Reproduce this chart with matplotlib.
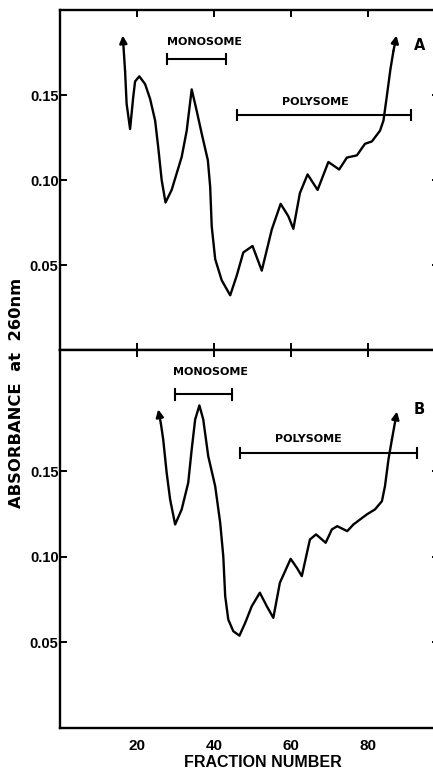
import matplotlib
matplotlib.use("Agg")
import matplotlib.pyplot as plt

# panel A trace (fraction number, absorbance)
frac_a = [16.3, 16.9, 17.3, 18.2, 19.0, 19.5, 20.6, 22.1, 23.4, 24.7, 25.5, 26.4, 27.4,
          29.0, 31.6, 32.9, 34.2, 35.5, 36.8, 38.4, 39.0, 39.4, 40.3, 42.0, 44.2,
          45.9, 47.6, 50.0, 52.4, 55.0, 57.3, 59.3, 60.6, 62.3, 64.3, 66.9, 69.7,
          72.5, 74.5, 77.1, 79.2, 81.0, 83.1, 84.0, 84.8, 85.8, 86.6, 87.4]
abs_a = [0.185, 0.164, 0.1448, 0.130, 0.1485, 0.158, 0.161, 0.1564, 0.1477, 0.135, 0.1194, 0.100, 0.0868,
         0.0942, 0.1136, 0.129, 0.1533, 0.1407, 0.1273, 0.1116, 0.096, 0.0728, 0.0535, 0.041, 0.0322,
         0.0438, 0.0574, 0.0612, 0.0467, 0.0709, 0.086, 0.0787, 0.0713, 0.0923, 0.1033, 0.0942, 0.1106,
         0.1062, 0.1132, 0.1145, 0.1213, 0.1227, 0.129, 0.1349, 0.148, 0.165, 0.176, 0.185]

# panel B trace
frac_b = [25.5, 26.2, 26.8, 27.7, 28.6, 29.9, 31.6, 33.3, 34.2, 35.1, 36.2, 37.2, 38.5,
          40.3, 41.6, 42.4, 42.9, 43.7, 45.0, 46.6, 48.1, 49.8, 51.9, 53.7, 55.4,
          57.1, 59.9, 61.5, 62.8, 64.9, 66.5, 69.0, 70.6, 72.0, 74.6, 76.2, 79.7,
          81.8, 83.6, 84.4, 85.3, 86.2, 87.5]
abs_b = [0.1863, 0.178, 0.1687, 0.1492, 0.1336, 0.119, 0.1278, 0.1434, 0.1629, 0.1804, 0.1886, 0.1804, 0.1589,
         0.1414, 0.120, 0.1005, 0.0771, 0.0634, 0.0566, 0.054, 0.0615, 0.0712, 0.0791, 0.0712, 0.0644,
         0.0849, 0.0989, 0.0937, 0.0888, 0.1102, 0.1132, 0.1083, 0.1161, 0.118, 0.1151, 0.119, 0.1249,
         0.1278, 0.1326, 0.1414, 0.157, 0.1687, 0.185]

# bracket annotations: (label, x_start, x_end, bar_y, text_x, text_y)
brackets_a = [("MONOSOME", 27.8, 43.1, 0.171, 37.4, 0.181),
              ("POLYSOME", 46.0, 91.2, 0.1384, 66.2, 0.146)]
brackets_b = [("MONOSOME", 29.9, 44.7, 0.195, 39.2, 0.208),
              ("POLYSOME", 46.8, 92.7, 0.161, 64.5, 0.169)]

yticks = [0.05, 0.10, 0.15]
yticklabels = ["0.05", "0.10", "0.15"]
xticks = [20, 40, 60, 80]

plt.rcParams["font.family"] = ["Liberation Sans", "DejaVu Sans"]
plt.rcParams["font.weight"] = "bold"

fig = plt.figure(figsize=(4.33, 7.71), dpi=100)
ax_a = fig.add_axes([0.1386, 0.546, 0.875, 0.441])
ax_b = fig.add_axes([0.1386, 0.0558, 0.875, 0.4902])


def draw_panel(ax, frac, absb, ylim, brackets, letter, letter_y):
    ax.plot(frac[1:-1], absb[1:-1], color="black", lw=1.7,
            solid_joinstyle="round", solid_capstyle="round")
    # arrows at both ends of the trace
    for i0, i1 in [(1, 0), (-2, -1)]:
        ax.annotate("", xy=(frac[i1], absb[i1]), xytext=(frac[i0], absb[i0]),
                    arrowprops=dict(arrowstyle="-|>", color="black", lw=1.7,
                                    mutation_scale=11, shrinkA=0, shrinkB=0))
    for label, x0, x1, by, tx, ty in brackets:
        ax.plot([x0, x1], [by, by], color="black", lw=1.5)
        ax.plot([x0, x0], [by - 0.003, by + 0.003], color="black", lw=1.5)
        ax.plot([x1, x1], [by - 0.003, by + 0.003], color="black", lw=1.5)
        ax.text(tx, ty, label, ha="center", va="center", fontsize=8,
                fontweight="bold", family="DejaVu Sans")
    ax.text(93.3, letter_y, letter, ha="center", va="center", fontsize=10.5,
            fontweight="bold", family="DejaVu Sans")
    ax.set_xlim(0, 98.4)
    ax.set_ylim(*ylim)
    ax.set_yticks(yticks)
    ax.set_yticklabels(yticklabels)
    ax.set_xticks(xticks)
    for s in ax.spines.values():
        s.set_linewidth(1.7)
    ax.tick_params(axis="y", direction="in", length=5, width=1.4, right=True,
                   labelsize=10.5, pad=1)


draw_panel(ax_a, frac_a, abs_a, (0, 0.2), brackets_a, "A", 0.179)
draw_panel(ax_b, frac_b, abs_b, (0, 0.221), brackets_b, "B", 0.186)

ax_a.tick_params(axis="x", direction="in", length=5, width=1.4, top=True,
                 labelbottom=False)
ax_b.tick_params(axis="x", direction="in", length=5, width=1.4, top=True,
                 bottom=False, labelsize=11, pad=8)

fig.text(0.607, 0.0105, "FRACTION NUMBER", ha="center", va="center",
         fontsize=11.5, fontweight="bold")
fig.text(0.039, 0.49, "ABSORBANCE  at  260nm", rotation=90, ha="center", va="center",
         fontsize=11.8, fontweight="bold", family="DejaVu Sans")

fig.savefig("out.png", dpi=100)
